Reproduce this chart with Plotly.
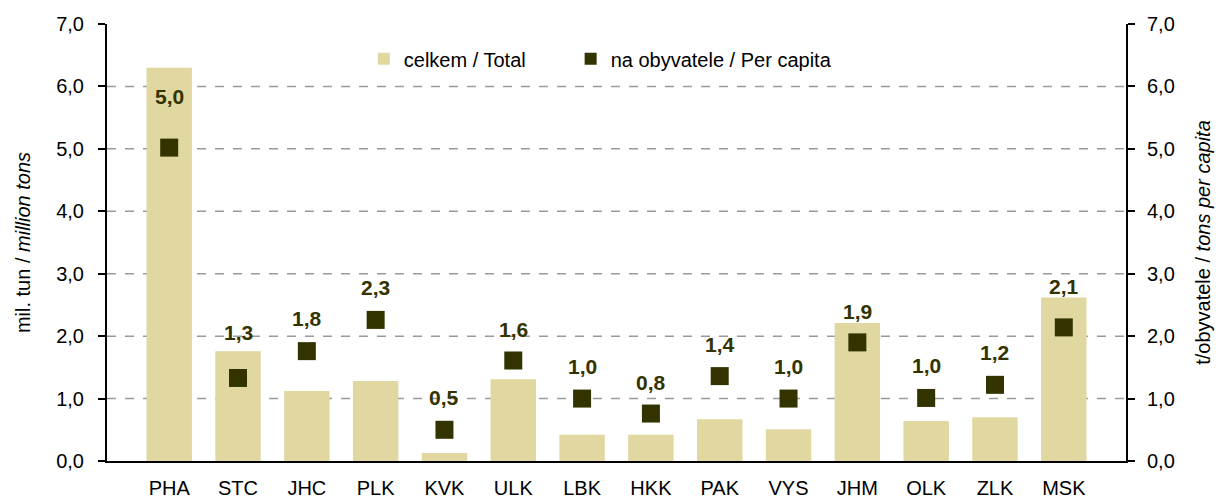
import plotly.graph_objects as go

regions = ["PHA", "STC", "JHC", "PLK", "KVK", "ULK", "LBK", "HKK", "PAK", "VYS", "JHM", "OLK", "ZLK", "MSK"]
total_mil_tons = [6.30, 1.76, 1.12, 1.28, 0.13, 1.31, 0.42, 0.42, 0.67, 0.51, 2.21, 0.64, 0.70, 2.62]
per_capita_tons = [5.02, 1.33, 1.76, 2.26, 0.50, 1.61, 1.00, 0.76, 1.36, 1.00, 1.90, 1.01, 1.22, 2.14]
label_shift_px = [51, 45, 33, 32, 32, 31, 32, 31, 32, 32, 31, 32, 32, 41]
y_ticks = [0, 1, 2, 3, 4, 5, 6, 7]

FONT = "Liberation Sans, Arial, sans-serif"
BAR_COLOR = "#E1D7A0"
MARK_COLOR = "#333300"

fig = go.Figure()
fig.add_trace(go.Bar(
    x=regions, y=total_mil_tons, name="celkem / Total",
    marker=dict(color=BAR_COLOR, line=dict(width=0)),
    yaxis="y", legend="legend",
))
fig.add_trace(go.Scatter(
    x=regions, y=per_capita_tons, name="na obyvatele / Per capita",
    mode="markers", marker=dict(symbol="square", size=18, color=MARK_COLOR),
    yaxis="y2", legend="legend2",
))

annotations = []
for r, v, s in zip(regions, per_capita_tons, label_shift_px):
    annotations.append(dict(
        x=r, y=v, xref="x", yref="y2", text=f"{v:.1f}".replace(".", ","),
        showarrow=False, yshift=s, yanchor="middle",
        font=dict(family=FONT, size=21, color=MARK_COLOR, weight="bold"),
    ))

shapes = []
for t in y_ticks[1:-1]:
    shapes.append(dict(
        type="line", xref="paper", x0=0, x1=1, yref="y", y0=t, y1=t,
        line=dict(color="#9A9A9A", width=1.5, dash="dash"), layer="below",
    ))

legend_common = dict(orientation="h", yanchor="top", font=dict(size=20),
                     bgcolor="rgba(0,0,0,0)", itemwidth=30, itemsizing="constant")

fig.update_layout(
    width=1216, height=490,
    margin=dict(l=99, r=98, t=16, b=37),
    paper_bgcolor="white", plot_bgcolor="white",
    font=dict(family=FONT, size=20, color="black"),
    separators=", ",
    bargap=0.34,
    showlegend=True,
    legend=dict(x=0.252, y=0.965, xanchor="left", **legend_common),
    legend2=dict(x=0.455, y=0.965, xanchor="left", **legend_common),
    xaxis=dict(
        showline=True, linecolor="black", linewidth=2, ticks="",
        tickfont=dict(size=20), showgrid=False, automargin=False,
        ticklabelstandoff=8,
    ),
    yaxis=dict(
        range=[0, 7], tickvals=y_ticks, tickformat=".1f",
        showline=True, linecolor="black", linewidth=2,
        ticks="outside", ticklen=7, tickwidth=2, tickcolor="black",
        showgrid=False, zeroline=False, automargin=False,
        ticklabelstandoff=10,
        title=dict(text="mil. tun / <i>million tons</i>", font=dict(size=20), standoff=20),
        tickfont=dict(size=20),
    ),
    yaxis2=dict(
        range=[0, 7], tickvals=y_ticks, tickformat=".1f",
        overlaying="y", side="right",
        showline=True, linecolor="black", linewidth=2,
        ticks="outside", ticklen=7, tickwidth=2, tickcolor="black",
        showgrid=False, zeroline=False, automargin=False,
        ticklabelstandoff=8,
        title=dict(text="t/obyvatele / <i>tons per capita</i>", font=dict(size=20), standoff=22),
        tickfont=dict(size=20),
    ),
    annotations=annotations,
    shapes=shapes,
)

fig.write_html("out.html")
